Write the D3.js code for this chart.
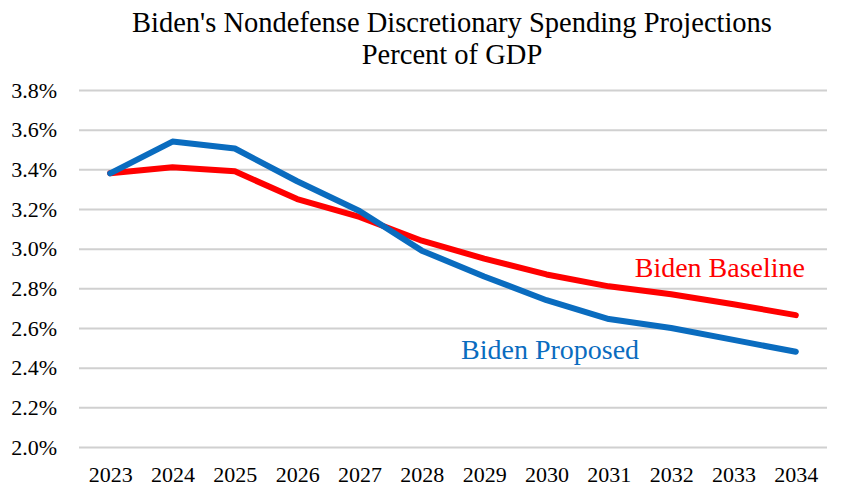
<!DOCTYPE html>
<html><head><meta charset="utf-8">
<script src="https://cdn.jsdelivr.net/npm/d3@7"></script>
<style>body{margin:0;background:#fff}svg{display:block}</style>
</head><body>
<svg id="c" width="847" height="499"></svg>
<script>
const years = ["2023","2024","2025","2026","2027","2028","2029","2030","2031","2032","2033","2034"];
const baseline = [3.38,3.41,3.39,3.25,3.16,3.04,2.95,2.87,2.81,2.77,2.72,2.665];
const proposed = [3.38,3.54,3.505,3.34,3.19,2.99,2.86,2.74,2.645,2.60,2.54,2.48];
const yTicks = [2.0,2.2,2.4,2.6,2.8,3.0,3.2,3.4,3.6,3.8];
const titleLines = ["Biden's Nondefense Discretionary Spending Projections","Percent of GDP"];

const svg = d3.select("#c");
const font = "'Liberation Serif','Times New Roman',serif";
const L = 79, R = 827, T = 90, B = 447;
const x = d3.scalePoint().domain(years).range([L, R]).padding(0.5);
const y = d3.scaleLinear().domain([2.0, 3.8]).range([B, T]);

const yAxis = svg.append("g").attr("transform", `translate(${L},0)`)
  .call(d3.axisLeft(y).tickValues(yTicks).tickSize(-(R - L)).tickFormat(d => d3.format(".1f")(d) + "%").tickPadding(22));
yAxis.select(".domain").remove();
yAxis.selectAll("line").attr("stroke", "#d0d0d0").attr("stroke-width", 2);
yAxis.selectAll("text").attr("font-family", font).attr("font-size", 22).attr("fill", "#000");

const xAxis = svg.append("g").attr("transform", `translate(0,${B})`)
  .call(d3.axisBottom(x).tickSize(0).tickPadding(19));
xAxis.select(".domain").remove();
xAxis.selectAll("text").attr("font-family", font).attr("font-size", 22).attr("fill", "#000");

const line = d3.line().x((d, i) => x(years[i])).y(d => y(d));
svg.append("path").datum(baseline).attr("d", line).attr("fill", "none")
  .attr("stroke", "#ff0000").attr("stroke-width", 6).attr("stroke-linecap", "round").attr("stroke-linejoin", "round");
svg.append("path").datum(proposed).attr("d", line).attr("fill", "none")
  .attr("stroke", "#0a6cbf").attr("stroke-width", 6).attr("stroke-linecap", "round").attr("stroke-linejoin", "round");

svg.append("text").attr("x", 805).attr("y", 277).attr("text-anchor", "end")
  .attr("font-family", font).attr("font-size", 28).attr("fill", "#ff0000").text("Biden Baseline");
svg.append("text").attr("x", 461).attr("y", 359)
  .attr("font-family", font).attr("font-size", 28).attr("fill", "#0a6cbf").text("Biden Proposed");

svg.selectAll(".title").data(titleLines).enter().append("text")
  .attr("x", 452).attr("y", (d, i) => 32 + i * 32).attr("text-anchor", "middle")
  .attr("font-family", font).attr("font-size", 28.5).attr("fill", "#000").text(d => d);
</script>
</body></html>
